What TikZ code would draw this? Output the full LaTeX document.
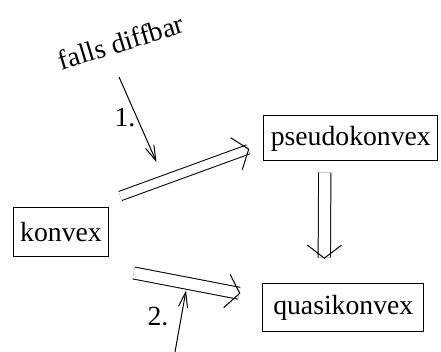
\documentclass[tikz,border=0pt]{standalone}
\usepackage{fontspec}
\setmainfont{Liberation Serif}
\newfontfamily\figfont{Liberation Serif}
\usetikzlibrary{arrows.meta,positioning}

\begin{document}
\begin{tikzpicture}[
    x=1pt, y=1pt, line width=1pt,
    font=\figfont\fontsize{27.7pt}{33pt}\selectfont,
    box/.style={rectangle, draw, inner xsep=7pt, inner ysep=0pt, minimum height=49pt},
    dblarr/.style={double, double distance=#1, -{Straight Barb[length=13pt, width=34pt]}},
    arr/.style={-{Straight Barb[length=15pt, width=9pt]}},
    lbl/.style={inner sep=0pt}
  ]
  \useasboundingbox (0,0) rectangle (441,352);

  \node[box] (konvex) at (61,120) {konvex};
  \node[box, minimum height=45pt, above right=45.5pt and 154pt of konvex] (pseudo) {pseudokonvex};
  \node[box, minimum height=48pt, minimum width=161pt, below right=26.5pt and 153pt of konvex] (quasi) {quasikonvex};

  \node[lbl, rotate=17] (falls) at (121,310) {falls diffbar};
  \node[lbl] (one) at (125,234) {1.};
  \node[lbl] (two) at (158,35) {2.};

  \coordinate (hintA) at (119,275);
  \coordinate (hintAtip) at (156.5,190);
  \coordinate (hintB) at (175,0);
  \coordinate (hintBtip) at (186,61.5);

  \draw[dblarr=8.5pt] ([shift={(11pt,11pt)}]konvex.north east) -- ([shift={(-14pt,-10.5pt)}]pseudo.west);
  \draw[dblarr=11pt] ([shift={(24.5pt,-16pt)}]konvex.south east) -- ([shift={(-22pt,14.5pt)}]quasi.west);
  \draw[dblarr=11.3pt] ([shift={(-26pt,-11pt)}]pseudo.south) -- ([shift={(-19pt,24.7pt)}]quasi.north);

  \draw[arr] (hintA) -- (hintAtip);
  \draw[arr] (hintB) -- (hintBtip);
\end{tikzpicture}
\end{document}
